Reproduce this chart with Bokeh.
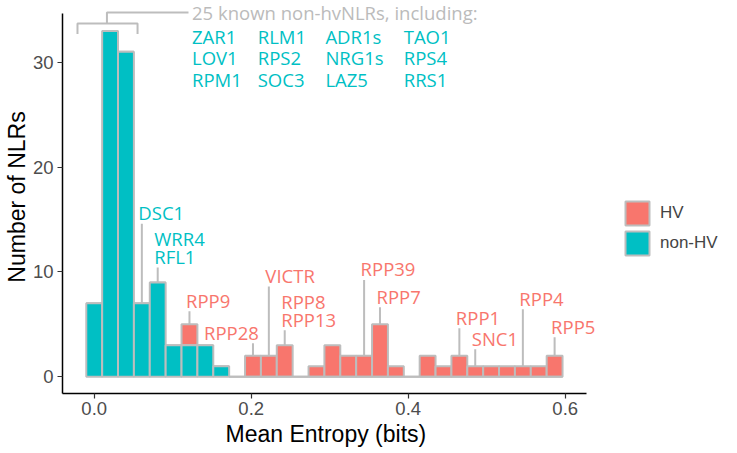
import numpy as np
from bokeh.plotting import figure
from bokeh.models import (ColumnDataSource, Legend, LegendItem, Label, Title,
                          FixedTicker, Range1d)
from bokeh.core.properties import value
from bokeh.embed import file_html
from bokeh.resources import INLINE

# ---------------- data ----------------
entropy_min = 0.0
entropy_max = 0.5865
n_bins = 30

nonhv_counts = [7, 33, 31, 7, 9, 3, 3, 3, 1, 0,
                0, 0, 0, 0, 0, 0, 0, 0, 0, 0,
                0, 0, 0, 0, 0, 0, 0, 0, 0, 0]
hv_counts = [0, 0, 0, 0, 0, 0, 2, 0, 0, 0,
             2, 2, 3, 0, 1, 3, 2, 2, 5, 1,
             0, 2, 1, 2, 1, 1, 1, 1, 1, 2]

x_ticks = [0.0, 0.2, 0.4, 0.6]
x_tick_labels = ["0.0", "0.2", "0.4", "0.6"]
y_ticks = [0, 10, 20, 30]

# labelled NLRs: (lines, bin index, baseline of first line in counts, x shift px)
nonhv_labels = [(["DSC1"], 3, 14.9, -3.5),
                (["WRR4", "RFL1"], 4, 12.45, -3.5)]
hv_labels = [(["RPP9"], 6, 6.54, -3.5),
             (["RPP28"], 10, 3.5, -49.0),
             (["VICTR"], 11, 8.92, -3.5),
             (["RPP8", "RPP13"], 12, 6.45, -3.5),
             (["RPP39"], 17, 9.52, -3.5),
             (["RPP7"], 18, 6.92, -3.5),
             (["RPP1"], 23, 4.92, -3.5),
             (["SNC1"], 24, 2.92, -3.5),
             (["RPP4"], 27, 6.73, -3.5),
             (["RPP5"], 29, 4.07, -3.5)]

known_header = "25 known non-hvNLRs, including:"
known_names = [["ZAR1", "LOV1", "RPM1"],
               ["RLM1", "RPS2", "SOC3"],
               ["ADR1s", "NRG1s", "LAZ5"],
               ["TAO1", "RPS4", "RRS1"]]
known_cols_x = [0.1265, 0.2102, 0.2964, 0.3962]
known_rows_y = [31.75, 29.69, 27.56]
header_y = 34.0
bracket_x = [-0.0213, 0.0552, 0.0162, 0.1201]
bracket_y = [32.7, 33.71, 34.76]

# ---------------- styles ----------------
TEAL = "#00BFC4"
RED = "#F8766D"
OUTLINE = "#BDBDBD"
LINE_STEP = 1.72
SEG_GAP = 0.3
TXT_DY = 0.76          # text rendering baseline correction (counts units)
LBL_FONT = "18.5px"

binwidth = (entropy_max - entropy_min) / (n_bins - 1)
centers = [entropy_min + i * binwidth for i in range(n_bins)]
nonhv = np.array(nonhv_counts, dtype=float)
hv = np.array(hv_counts, dtype=float)
totals = nonhv + hv

X0, Y0 = -0.0404, -1.6
x_end = X0 + (737 - 62) / 785.0
y_end = Y0 + 393 / 10.48

p = figure(width=737, height=453, output_backend="svg", toolbar_location=None,
           x_range=Range1d(X0, x_end), y_range=Range1d(Y0, y_end),
           min_border_left=62, min_border_right=0, min_border_top=0,
           min_border_bottom=60)
p.outline_line_color = None
p.xgrid.visible = False
p.ygrid.visible = False
p.background_fill_color = "white"

src_n = ColumnDataSource(dict(x=centers, top=nonhv, bottom=np.zeros(n_bins)))
src_h = ColumnDataSource(dict(x=centers, top=totals, bottom=nonhv))
r_h = p.vbar(x="x", top="top", bottom="bottom", width=binwidth, source=src_h,
             fill_color=RED, line_color=OUTLINE, line_width=2)
r_n = p.vbar(x="x", top="top", bottom="bottom", width=binwidth, source=src_n,
             fill_color=TEAL, line_color=OUTLINE, line_width=2)

# label segments and texts
def add_labels(groups, color):
    sx, sy0, sy1 = [], [], []
    tx, ty, tt, toff = [], [], [], []
    for lines, b, y0, dx in groups:
        for j, ln in enumerate(lines):
            tx.append(centers[b]); ty.append(y0 - j * LINE_STEP + TXT_DY)
            tt.append(ln); toff.append(dx)
        sx.append(centers[b])
        sy0.append(totals[b])
        sy1.append(y0 - (len(lines) - 1) * LINE_STEP - SEG_GAP)
    p.segment(x0=sx, y0=sy0, x1=sx, y1=sy1, line_color=OUTLINE, line_width=2)
    p.text(x=tx, y=ty, text=tt, x_offset=toff, text_color=color,
           text_font=value("Open Sans"), text_font_size=value(LBL_FONT),
           text_baseline="alphabetic", text_align="left")

add_labels(nonhv_labels, TEAL)
add_labels(hv_labels, RED)

# bracket over the non-HV peak
p.multi_line(xs=[[bracket_x[0], bracket_x[0], bracket_x[1], bracket_x[1]],
                 [bracket_x[2], bracket_x[2], bracket_x[3]]],
             ys=[[bracket_y[0], bracket_y[1], bracket_y[1], bracket_y[0]],
                 [bracket_y[1], bracket_y[2], bracket_y[2]]],
             line_color=OUTLINE, line_width=2)

kx, ky, kt = [], [], []
for ci, col in enumerate(known_names):
    for ri, nm in enumerate(col):
        kx.append(known_cols_x[ci]); ky.append(known_rows_y[ri] + TXT_DY)
        kt.append(nm)
p.text(x=kx, y=ky, text=kt, x_offset=-1.5, text_color=TEAL,
       text_font=value("Open Sans"), text_font_size=value(LBL_FONT),
       text_baseline="alphabetic", text_align="left")

p.add_layout(Label(x=known_cols_x[0], y=header_y + TXT_DY, text=known_header,
                   x_offset=-1.5, text_color="#BBBBBB", text_font="Open Sans",
                   text_font_size=LBL_FONT, text_baseline="alphabetic"))

# axes
for ax in (p.xaxis[0], p.yaxis[0]):
    ax.axis_line_color = "black"
    ax.axis_line_width = 1.5
    ax.major_tick_line_color = "#333333"
    ax.major_tick_line_width = 1.2
    ax.major_tick_out = 5
    ax.major_tick_in = 0
    ax.minor_tick_line_color = None
    ax.major_label_text_color = "#4D4D4D"
    ax.major_label_text_font = "Liberation Sans"
    ax.major_label_text_font_size = "18.5px"
    ax.axis_label_text_font = "Liberation Sans"
    ax.axis_label_text_font_size = "23px"
    ax.axis_label_text_font_style = "normal"
    ax.axis_label_text_color = "black"

p.xaxis.bounds = (X0, 0.627)
p.yaxis.bounds = (Y0, 34.68)
p.xaxis.ticker = FixedTicker(ticks=x_ticks)
p.xaxis.major_label_overrides = {t: l for t, l in zip(x_ticks, x_tick_labels)}
p.yaxis.ticker = FixedTicker(ticks=y_ticks)
p.yaxis.axis_label = "Number of NLRs"
p.xaxis.major_label_standoff = 3
p.yaxis.major_label_standoff = 4
p.yaxis.axis_label_standoff = 0

# x-axis title centred under the bounded axis
x_title = Title(text="Mean Entropy (bits)", align="left", offset=163,
                text_font="Liberation Sans", text_font_size="23px",
                text_font_style="normal", text_color="black", standoff=2)
p.add_layout(x_title, "below")

legend = Legend(items=[LegendItem(label="HV", renderers=[r_h]),
                       LegendItem(label="non-HV", renderers=[r_n])],
                location=(560, 135), glyph_width=30, glyph_height=30,
                label_text_font="Liberation Sans", label_text_font_size="17px",
                label_standoff=8, spacing=0, padding=0, margin=0,
                border_line_color=None, background_fill_alpha=0,
                label_height=30)
p.add_layout(legend, "center")

open("out.html", "w").write(file_html(p, INLINE))
